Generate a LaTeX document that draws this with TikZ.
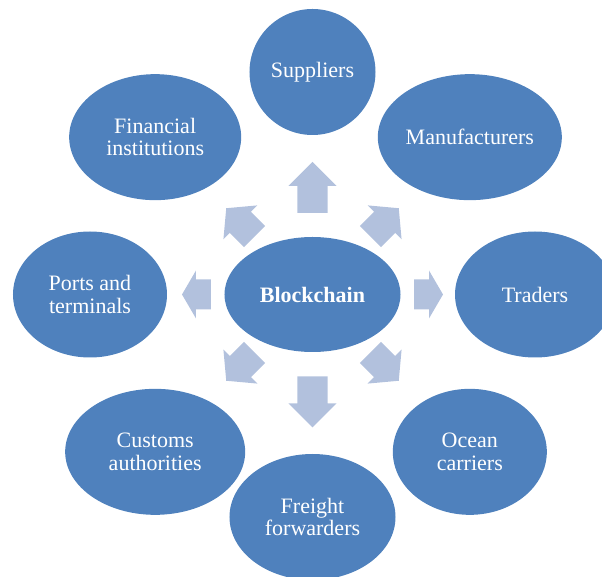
\documentclass[tikz,border=0pt]{standalone}
\usepackage{fontspec}
\setmainfont{Liberation Serif}
\usepackage{tikz}
\usetikzlibrary{calc, shapes.geometric}

\definecolor{hubblue}{HTML}{4F81BD}
\definecolor{spokeblue}{HTML}{B2C1DD}

\tikzset{
	hub/.style={ellipse, fill=hubblue, text=white, inner sep=0pt, align=center,
		minimum height=126pt, font=\fontsize{22}{22.5}\selectfont},
	pics/spoke/.style args={#1/#2}{code={
		\fill[spokeblue] (-#1/2,-15) -- (#1/2-#2,-15) -- (#1/2-#2,-24) -- (#1/2,0)
			-- (#1/2-#2,24) -- (#1/2-#2,15) -- (-#1/2,15) -- cycle;
	}}
}

\begin{document}
\begin{tikzpicture}[x=1pt, y=1pt]
			\useasboundingbox (-312.5,-282.5) rectangle (289.5,294.5);
			\clip (-312.5,-282.5) rectangle (289.5,294.5);
			% centre
			\node[hub, minimum width=176pt, minimum height=115pt, font=\fontsize{22}{22.5}\selectfont\bfseries] (bc) at (0,0) {Blockchain};
			% partners around it
			\foreach \ang/\rx/\nm/\txt in {90/63/sup/Suppliers, 45/92/man/Manufacturers, 0/80/tra/Traders,
				-45/77/oce/{Ocean\\carriers}, -90/83/fre/{Freight\\forwarders}, -135/90/cus/{Customs\\authorities},
				180/77/por/{Ports and\\terminals}, 135/86/fin/{Financial\\institutions}}
				\node[hub, minimum width=2*\rx pt] (\nm) at (\ang:222.5) {\txt};
			% block arrows pointing outwards
			\foreach \ang/\d/\sl/\sh in {90/107/51/24, -90/107.5/51/24, 0/116/29/14, 180/116/29/14,
				45/102/40/20, 135/102/40/20, -135/102/40/20, -45/102/40/20}
				\pic[rotate=\ang] at ($(bc)+(\ang:\d)$) {spoke=\sl/\sh};
		\end{tikzpicture}
\end{document}
